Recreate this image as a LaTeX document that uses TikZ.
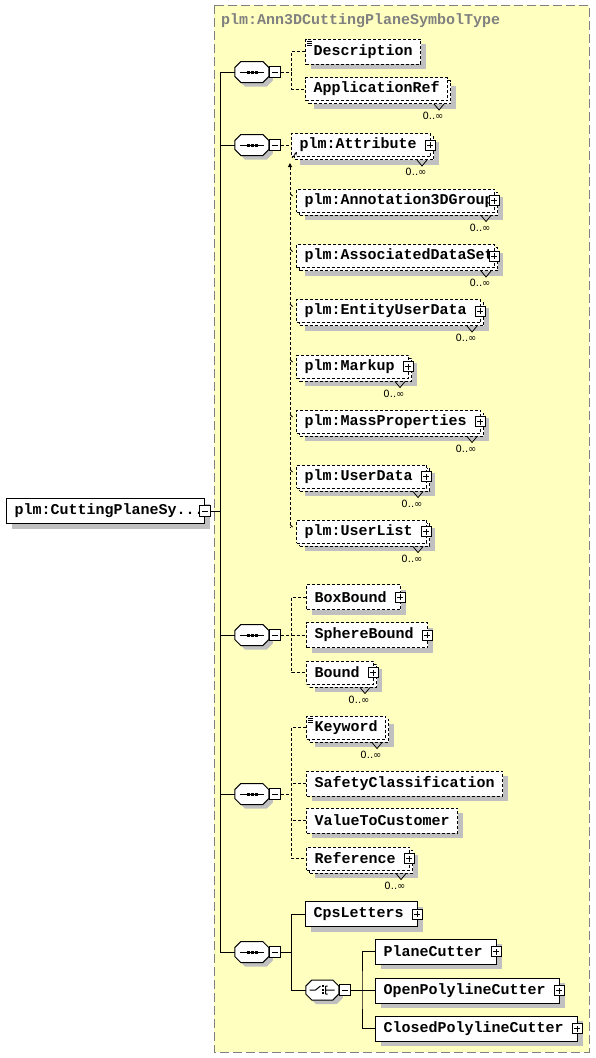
\documentclass[tikz,border=0pt]{standalone}
\usepackage{fontspec}
\setmonofont{Liberation Mono}
\newfontfamily\occfont{DejaVu Sans}
\usetikzlibrary{positioning,calc,arrows.meta,shadows}
\definecolor{typebg}{RGB}{255,255,192}
\definecolor{typeframe}{RGB}{128,128,128}
\definecolor{shadowgray}{RGB}{192,192,192}
\newcommand\elemfont{\ttfamily\bfseries\fontsize{15pt}{15pt}\selectfont}
\tikzset{
    elem/.style={draw, fill=white, line width=1pt, font=\elemfont, inner xsep=8pt, inner ysep=2pt, anchor=west},
    one/.style={elem, minimum height=25pt, drop shadow={shadow xshift=5pt, shadow yshift=-5pt, fill=shadowgray, opacity=1}},
    many/.style={elem, minimum height=23pt, drop shadow={shadow xshift=8pt, shadow yshift=-8pt, fill=shadowgray, opacity=1}, copy shadow={shadow xshift=3pt, shadow yshift=-3pt}},
    opt/.style={dash pattern=on 3pt off 2pt},
    haskids/.style={execute at end node={\hspace{6pt}}},
    tightbox/.style={execute at end node={\hspace{-7pt}}},
    plusbox/.style={draw, fill=white, line width=.8pt, minimum size=10pt, inner sep=0pt, path picture={
        \draw[line width=.8pt] ([xshift=-3pt]path picture bounding box.center) -- ([xshift=3pt]path picture bounding box.center)
            ([yshift=-3pt]path picture bounding box.center) -- ([yshift=3pt]path picture bounding box.center);}},
    minusbox/.style={draw, fill=white, line width=.8pt, minimum size=11pt, inner sep=0pt, path picture={
        \draw[line width=.8pt] ([xshift=-3pt]path picture bounding box.center) -- ([xshift=3pt]path picture bounding box.center);}},
    compbox/.style={minimum width=34pt, minimum height=21pt, inner sep=0pt},
    compframe/.style={draw, fill=white, line width=1pt, drop shadow={shadow xshift=4pt, shadow yshift=-4pt, fill=shadowgray, opacity=1}},
    link/.style={line width=1pt},
    optlink/.style={link, dash pattern=on 3pt off 2pt},
    occurs/.style={font=\occfont\fontsize{10pt}{10pt}\selectfont, inner sep=0pt},
    typebox/.style={fill=typebg, draw=typeframe, line width=1pt, dash pattern=on 9pt off 4pt}
}

\begin{document}
\begin{tikzpicture}[x=1pt, y=-1pt]
    \useasboundingbox (0,0) rectangle (595,1058);

    % complex type frame
    \draw[typebox] (214,5) rectangle (589,1052);
    \node[anchor=west, font=\elemfont, text=typeframe, inner sep=0pt] (title) at (221,21) {plm:Ann3DCuttingPlaneSymbolType};

    % root element
    \node[one, tightbox] (root) at (6,511) {plm:CuttingPlaneSy...};
    \node[minusbox] (rootm) at (root.east) {};

    % sequences
    \node[compbox] (s1) at (252,72) {};
    \node[compbox] (s2) at (252,145) {};
    \node[compbox] (s3) at (252,635) {};
    \node[compbox] (s4) at (252,794) {};
    \node[compbox] (s5) at (252,952) {};
    \foreach \s in {s1,s2,s3,s4,s5} {
        \draw[compframe] ($(\s.west)+(0,-4.5)$) -- ++(6,-6) -- ++(22,0) -- ++(6,6) -- ++(0,9) -- ++(-6,6) -- ++(-22,0) -- ++(-6,-6) -- cycle;
        \draw[link] ($(\s)+(-12,0)$) -- ++(24,0);
        \foreach \d in {-4,0,4}
            \fill ($(\s)+(\d-1.5,-1.5)$) rectangle ++(3,3);
        \node[minusbox, anchor=west] (\s-m) at (\s.east) {};
    }

    % first sequence
    \node[one, opt] (desc) at (305,51.5) {Description};
    \node[many, opt] (appref) at (305,89) {ApplicationRef};

    % substitution group
    \node[many, opt, haskids] (attr) at (291,145) {plm:Attribute};
    \node[many, opt, tightbox] (a3d) at (296,200.5) {plm:Annotation3DGroup};
    \node[many, opt, tightbox] (ads) at (296,256) {plm:AssociatedDataSet};
    \node[many, opt, haskids] (eud) at (296,311) {plm:EntityUserData};
    \node[many, opt, haskids] (markup) at (296,366.5) {plm:Markup};
    \node[many, opt, haskids] (massprop) at (296,421.5) {plm:MassProperties};
    \node[many, opt, haskids] (userdata) at (296,476.5) {plm:UserData};
    \node[many, opt, haskids] (userlist) at (296,531.5) {plm:UserList};

    % bounds
    \node[one, opt, haskids] (boxbound) at (306,597) {BoxBound};
    \node[one, opt, haskids] (spherebound) at (306,635) {SphereBound};
    \node[many, opt, haskids] (bound) at (306,672.5) {Bound};

    % keywords
    \node[many, opt] (keyword) at (306,727.5) {Keyword};
    \node[one, opt] (safety) at (306,783.5) {SafetyClassification};
    \node[one, opt] (value) at (306,820.5) {ValueToCustomer};
    \node[many, opt, haskids] (reference) at (306,858.5) {Reference};

    % letters and cutters
    \node[one, haskids] (cps) at (305,914) {CpsLetters};
    \node[compbox, minimum width=33pt, minimum height=20pt] (ch) at (322.5,990) {};
    \draw[compframe] ($(ch.west)+(0,-4)$) -- ++(6,-6) -- ++(21,0) -- ++(6,6) -- ++(0,8) -- ++(-6,6) -- ++(-21,0) -- ++(-6,-6) -- cycle;
    \draw[link] ($(ch)+(-13,0)$) -- ++(6,0) -- ++(5,-4)
        ($(ch)+(3,-4)$) -- ++(0,8)
        ($(ch)+(3,-4)$) -- ++(2,0)
        ($(ch)+(3,4)$) -- ++(2,0)
        ($(ch)+(3,0)$) -- ++(9,0);
    \foreach \d in {-4,0,3}
        \fill ($(ch)+(-0.5,\d-1)$) rectangle ++(2,2);
    \node[minusbox, anchor=west] (ch-m) at (ch.east) {};
    \node[one, haskids] (plane) at (375,951.5) {PlaneCutter};
    \node[one, haskids] (open) at (375,990.5) {OpenPolylineCutter};
    \node[one, haskids] (closed) at (375,1028.5) {ClosedPolylineCutter};

    % expand buttons
    \foreach \m in {attr,a3d,ads,eud,markup,massprop,userdata,userlist,boxbound,spherebound,bound,reference,cps,plane,open,closed}
        \node[plusbox] (\m-p) at ([xshift=-1pt]\m.east) {};

    % occurrences
    \foreach \m in {appref,attr,a3d,ads,eud,markup,massprop,userdata,userlist,bound,keyword,reference} {
        \draw[link, line width=.8pt] ($(\m.south east)+(-14,3)$) -- ++(5,6) -- ++(5,-6);
        \node[occurs] (\m-o) at ($(\m.south east)+(-15,15)$) {0..∞};
    }

    % documentation marks
    \foreach \m in {desc,keyword}
        \foreach \k in {0,1,2}
            \draw[line width=.6pt] ($(\m.north west)+(2,2.5+2*\k)$) -- ++(5,0);

    % trunk
    \coordinate (trunk) at (220,511);
    \draw[link] (rootm.east) -- (trunk);
    \draw[link] (s1.west) -- (s1.west -| trunk) -- (s5.west -| trunk) -- (s5.west);
    \foreach \s in {s2,s3,s4}
        \draw[link] (\s.west) -- (\s.west -| trunk);

    % branches
    \draw[optlink] (s1-m.east) -- ++(10.5,0) coordinate (b1);
    \draw[optlink] (desc.west) -| (b1) |- (appref.west);

    \draw[optlink] (s2-m.east) -- (attr.west);
    \draw[optlink, {Triangle[length=4pt,width=4pt]}-] ($(attr.south west)+(-1,6)$) -- ($(userlist.north west)+(-6,8)$);
    \foreach \m in {a3d,ads,eud,markup,massprop,userdata,userlist}
        \draw[link, line width=.8pt] ($(\m.north west)+(-6,5)$) -- ++(2.5,2.5);
    \draw[link, line width=.8pt, -{Stealth[length=3pt,width=3pt]}] ($(attr.south west)+(1,1)$) -- ++(5,-6);

    \draw[optlink] (s3-m.east) -- ++(10.5,0) coordinate (b3);
    \draw[optlink] (boxbound.west) -| (b3) |- (bound.west);
    \draw[optlink] (b3) -- (spherebound.west);

    \draw[optlink] (s4-m.east) -- ++(10.5,0) coordinate (b4);
    \draw[optlink] (keyword.west) -| (b4) |- (reference.west);
    \foreach \m in {safety,value}
        \draw[optlink] (\m.west) -- (\m.west -| b4);

    \draw[link] (s5-m.east) -- ++(10.5,0) coordinate (b5);
    \draw[link] (cps.west) -| (b5) |- (ch.west);
    \draw[link] (ch-m.east) -- ++(11,0) coordinate (b6);
    \draw[link] (plane.west) -| (b6) |- (closed.west);
    \draw[link] (open.west) -- (open.west -| b6);
\end{tikzpicture}
\end{document}
